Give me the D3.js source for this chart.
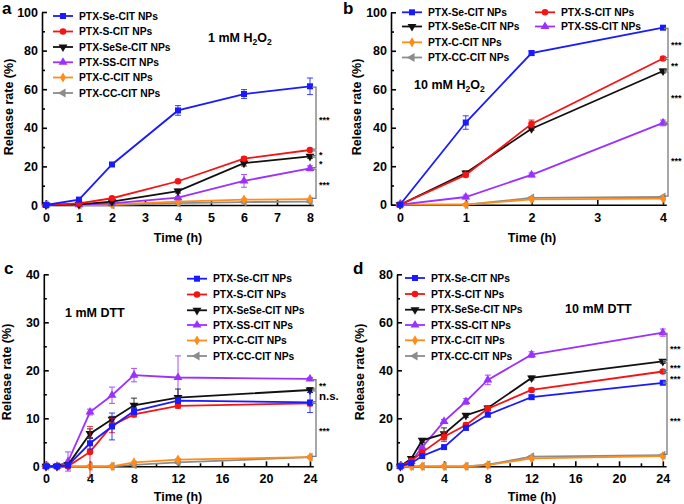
<!DOCTYPE html>
<html><head><meta charset="utf-8">
<script src="https://cdn.jsdelivr.net/npm/d3@7"></script>
<style>
body{margin:0;background:#fff}
svg{display:block;font-family:"Liberation Sans",Arial,sans-serif;font-weight:bold}
</style></head><body>
<svg id="chart" width="684" height="504"></svg>
<script>
// ---------- data ----------
const seriesNames = ["PTX-Se-CIT NPs","PTX-S-CIT NPs","PTX-SeSe-CIT NPs","PTX-SS-CIT NPs","PTX-C-CIT NPs","PTX-CC-CIT NPs"];
const seriesColors = ["#1a1aff","#f51414","#111111","#9b30ff","#ff8c1a","#8c8c8c"];

// panel a: 1 mM H2O2
const aTime = [0,1,2,4,6,8];
const aValues = [
  [0,2.8,21,49,57.5,61.5],
  [0,0.8,3.5,12.3,24,28.5],
  [0,0.3,1.7,7.2,21.7,25.2],
  [0,0.2,0.8,3.8,12.5,19],
  [0,0,0.3,1.8,2.8,3.0],
  [0,0,0,1.0,1.5,1.8]
];
const aErrors = [
  [0,0.5,0.8,2.5,2.3,4.3],
  [0,0.3,0.5,0.6,1.0,0.8],
  [0,0.3,0.5,1.0,1.5,1.0],
  [0,0.2,0.3,0.6,3.3,1.3],
  [0,0,0.2,0.3,0.4,0.4],
  [0,0,0,0.2,0.3,0.3]
];
const aBrackets = [[61.5,28.5,"***"],[28.5,25.2,"*"],[25.2,19,"*"],[19,3,"***"]];

// panel b: 10 mM H2O2
const bTime = [0,1,2,4];
const bValues = [
  [0,42.7,78.8,92],
  [0,15.5,42,76],
  [0,16.5,39.5,69.5],
  [0,4,15.5,42.5],
  [0,0,2.8,3.2],
  [0,0,3.5,4.0]
];
const bErrors = [
  [0,3.5,1.2,0.8],
  [0,1,2,0.7],
  [0,1,0.8,1],
  [0,1,1,1.5],
  [0,0,0.3,0.3],
  [0,0,0.5,0.5]
];
const bBrackets = [[92,76,"***"],[76,69.5,"**"],[69.5,42.5,"***"],[42.5,4,"***"]];

// panel c: 1 mM DTT
const cTime = [0,1,2,4,6,8,12,24];
const cValues = [
  [0,0,0.2,4.8,8.3,11.5,13.7,13.3],
  [0,0,0,3.0,8.5,10.8,12.6,13.1],
  [0,0,0.3,6.8,9.8,12.7,14.3,15.9],
  [0,0,1.0,11.3,14.8,19.0,18.5,18.2],
  [0,0,0,0,0,0.8,1.4,1.9],
  [0,0,0,0,0,0.3,0.8,1.9]
];
const cErrors = [
  [0,0,0.3,1.2,2.8,0.7,0.6,2.1],
  [0,0,0.2,5.3,1.5,0.5,0.5,0.5],
  [0,0,0.3,1.0,0.6,1.5,1.8,0.5],
  [0,0,2.0,0.6,1.7,1.4,4.5,0.3],
  [0,0,0,0,0,0.2,0.2,0.2],
  [0,0,0,0,0,0.2,0.2,0.2]
];
const cBrackets = [[18.2,15.9,"**"],[15.9,13.3,"n.s."],[13.3,1.9,"***"]];

// panel d: 10 mM DTT
const dTime = [0,1,2,4,6,8,12,24];
const dValues = [
  [0,1.3,4.3,8,16,21.5,28.8,34.8],
  [0,2.3,5.8,12.3,17.2,24,31.8,39.5],
  [0,3.2,10.8,13.5,21.2,24.3,36.8,43.7],
  [0,2,8,18.7,27,36,46.5,55.7],
  [0,0,0,0,0,0.5,3.3,4.2],
  [0,0,0,0,0,0.7,4.0,4.6]
];
const dErrors = [
  [0,0.3,0.5,0.7,0.8,0.8,0.8,0.6],
  [0,0.5,0.8,2,0.8,0.8,0.8,0.6],
  [0,0.6,0.8,2.5,0.8,0.8,0.8,0.8],
  [0,0.5,0.8,0.8,1.2,2,1.2,1.5],
  [0,0,0,0,0,0.3,0.3,0.3],
  [0,0,0,0,0,0.3,0.4,0.4]
];
const dBrackets = [[55.7,43.7,"***"],[43.7,39.5,"***"],[39.5,34.8,"***"],[34.8,4.6,"***"]];

const abTicksX = [0,1,2,3,4,5,6,7,8];
const bTicksX = [0,1,2,3,4];
const cdTicksX = [0,4,8,12,16,20,24];
const cdMinorX = [2,6,10,14,18,22];

// ---------- drawing ----------
const svg = d3.select("#chart");
const symRot = [0,0,180,0,0,-90];
const symTypes = [d3.symbolSquare,d3.symbolCircle,d3.symbolTriangle,d3.symbolTriangle,d3.symbolDiamond,d3.symbolTriangle];
const symSizes = [36,34,34,34,30,34];

function marker(g, i, cx, cy){
  g.append("path")
    .attr("d", d3.symbol().type(symTypes[i]).size(symSizes[i])())
    .attr("transform", `translate(${cx},${cy}) rotate(${symRot[i]})`)
    .attr("fill", seriesColors[i]);
}

function subText(g, x, y, parts){
  const t = g.append("text").attr("x",x).attr("y",y).attr("font-size",12.5);
  parts.forEach(p=>{
    if (p[1]) t.append("tspan").attr("font-size",8.5).attr("dy",3).text(p[0]);
    else t.append("tspan").attr("dy",p[2]||0).text(p[0]);
  });
}

function drawPanel(cfg){
  const g = svg.append("g");
  const x = d3.scaleLinear().domain(cfg.xDomain).range(cfg.xRange);
  const y = d3.scaleLinear().domain(cfg.yDomain).range(cfg.yRange);

  // axes
  const gx = g.append("g").attr("transform",`translate(0,${cfg.yRange[0]})`)
    .call(d3.axisBottom(x).tickValues(cfg.xTicks).tickSizeInner(-5).tickSizeOuter(0).tickPadding(8).tickFormat(d3.format("d")));
  const gxm = g.append("g").attr("transform",`translate(0,${cfg.yRange[0]})`)
    .call(d3.axisBottom(x).tickValues(cfg.xMinor).tickSizeInner(-3).tickSizeOuter(0).tickFormat(""));
  gxm.select(".domain").remove();
  const gy = g.append("g").attr("transform",`translate(${cfg.xRange[0]},0)`)
    .call(d3.axisLeft(y).tickValues(cfg.yTicks).tickSizeInner(-5).tickSizeOuter(0).tickPadding(4));
  const gym = g.append("g").attr("transform",`translate(${cfg.xRange[0]},0)`)
    .call(d3.axisLeft(y).tickValues(cfg.yMinor).tickSizeInner(-3).tickSizeOuter(0).tickFormat(""));
  gym.select(".domain").remove();
  [gx,gxm,gy,gym].forEach(a=>{
    a.attr("font-family",null).attr("font-size",12.5);
    a.selectAll("path,line").attr("stroke","#000").attr("stroke-width",1.6);
  });

  // series (draw last series first so first is on top)
  for (let i = cfg.values.length-1; i >= 0; i--){
    const vals = cfg.values[i], errs = cfg.errors[i], col = seriesColors[i];
    const pts = cfg.time.map((t,j)=>[x(t), y(vals[j])]);
    g.append("path").attr("d", d3.line()(pts)).attr("fill","none")
      .attr("stroke", col).attr("stroke-width",1.8);
    cfg.time.forEach((t,j)=>{
      const e = errs[j];
      if (e > 0){
        const cx = x(t), y1 = y(vals[j]+e), y2 = y(vals[j]-e);
        g.append("path").attr("d",`M${cx},${y1}V${y2}M${cx-3},${y1}H${cx+3}M${cx-3},${y2}H${cx+3}`)
          .attr("stroke", col).attr("stroke-width",1).attr("fill","none").attr("opacity",0.85);
      }
    });
    pts.forEach(p=>marker(g,i,p[0],p[1]));
  }

  // significance brackets
  cfg.brackets.forEach(b=>{
    const y1 = y(b[0]) + 0.8, y2 = y(b[1]) - 0.8, bx = cfg.bx;
    g.append("path").attr("d",`M${bx-4},${y1}H${bx}V${y2}H${bx-4}`)
      .attr("fill","none").attr("stroke","#7a7a7a").attr("stroke-width",1.3);
    const isNS = b[2]==="n.s.";
    g.append("text").attr("x",bx+3).attr("y",(y1+y2)/2 + (isNS?4:4.5))
      .attr("font-size", isNS?11.5:9).text(b[2]);
  });

  // legend
  cfg.legend.forEach(l=>{
    const i = l[0], lx = l[1], ly = l[2];
    g.append("line").attr("x1",lx).attr("x2",lx+20).attr("y1",ly).attr("y2",ly)
      .attr("stroke",seriesColors[i]).attr("stroke-width",1.8);
    marker(g,i,lx+10,ly);
    g.append("text").attr("x",lx+26).attr("y",ly+3.6).attr("font-size",10.3).text(seriesNames[i]);
  });

  // titles
  g.append("text").attr("transform",`translate(${cfg.ylabX},${cfg.ylabY}) rotate(-90)`)
    .attr("text-anchor","middle").attr("font-size",12.5).text("Release rate (%)");
  g.append("text").attr("x",cfg.xlabX).attr("y",cfg.xlabY)
    .attr("text-anchor","middle").attr("font-size",12.5).text("Time (h)");
  g.append("text").attr("x",cfg.letter[1]).attr("y",cfg.letter[2]).attr("font-size",17).text(cfg.letter[0]);
  cfg.note(g);
}

drawPanel({
  time:aTime, values:aValues, errors:aErrors, brackets:aBrackets, bx:316,
  xDomain:[-0.12,8.1], xRange:[42,313.3], yDomain:[0,100], yRange:[205,12],
  xTicks:abTicksX, xMinor:[], yTicks:[0,20,40,60,80,100], yMinor:[10,30,50,70,90],
  legend:[[0,53,16],[1,53,31.5],[2,53,47],[3,53,62.3],[4,53,77.5],[5,53,93]],
  ylabX:13, ylabY:107, xlabX:178, xlabY:242, letter:["a",2,14],
  note:g=>subText(g,208,42,[["1 mM H"],["2",1],["O",0,-3],["2",1]])
});
drawPanel({
  time:bTime, values:bValues, errors:bErrors, brackets:bBrackets, bx:668,
  xDomain:[-0.137,4.05], xRange:[391,666.3], yDomain:[0,100], yRange:[204.7,12.3],
  xTicks:bTicksX, xMinor:[], yTicks:[0,20,40,60,80,100], yMinor:[10,30,50,70,90],
  legend:[[0,402,12.3],[1,535,12.3],[2,402,26.5],[3,535,26.5],[4,402,42.3],[5,402,57.5]],
  ylabX:361, ylabY:107, xlabX:532, xlabY:242, letter:["b",343,14],
  note:g=>subText(g,414,89,[["10 mM H"],["2",1],["O",0,-3],["2",1]])
});
drawPanel({
  time:cTime, values:cValues, errors:cErrors, brackets:cBrackets, bx:316,
  xDomain:[-0.2,24.3], xRange:[43.8,313.3], yDomain:[0,40], yRange:[466.3,274.3],
  xTicks:cdTicksX, xMinor:cdMinorX, yTicks:[0,10,20,30,40], yMinor:[5,15,25,35],
  legend:[[0,187,278.7],[1,187,294.5],[2,187,310.3],[3,187,325],[4,187,340.5],[5,187,356]],
  ylabX:11, ylabY:372, xlabX:178, xlabY:501, letter:["c",4,274],
  note:g=>g.append("text").attr("x",65).attr("y",317).attr("font-size",12.5).text("1 mM DTT")
});
drawPanel({
  time:dTime, values:dValues, errors:dErrors, brackets:dBrackets, bx:667,
  xDomain:[-0.3,24.3], xRange:[397,666.1], yDomain:[0,80], yRange:[466.3,274.3],
  xTicks:cdTicksX, xMinor:cdMinorX, yTicks:[0,20,40,60,80], yMinor:[10,30,50,70],
  legend:[[0,405,278],[1,405,294],[2,405,309.7],[3,405,325],[4,405,340.3],[5,405,356]],
  ylabX:364, ylabY:372, xlabX:532, xlabY:501, letter:["d",353,274],
  note:g=>g.append("text").attr("x",565).attr("y",313).attr("font-size",12.5).text("10 mM DTT")
});
</script>
</body></html>
